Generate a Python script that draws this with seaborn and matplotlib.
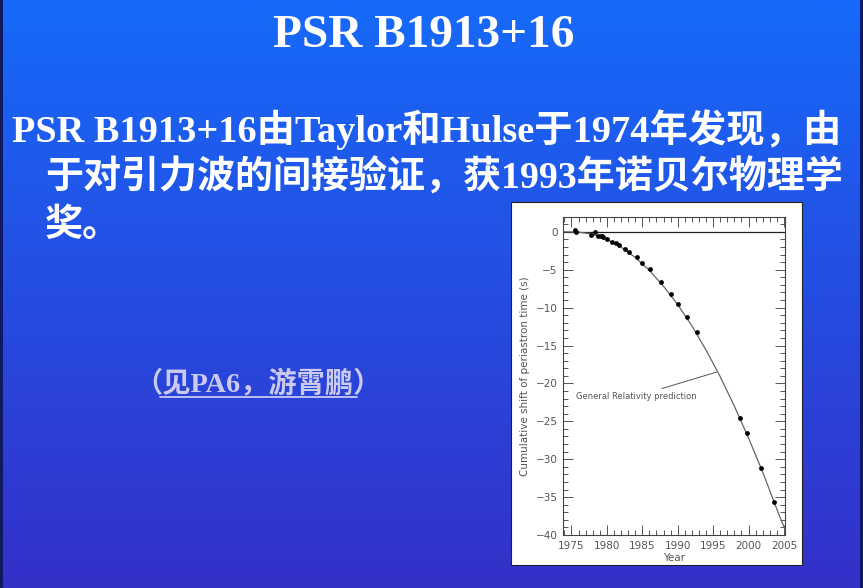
import numpy as np
import pandas as pd
import matplotlib
matplotlib.use("Agg")
import matplotlib.pyplot as plt
from matplotlib.patches import Rectangle
from matplotlib.lines import Line2D
from matplotlib.ticker import MultipleLocator
import seaborn as sns

# ---------------- data ----------------
title = "PSR B1913+16"
line1 = "PSR B1913+16由Taylor和Hulse于1974年发现，由"
line2 = "于对引力波的间接验证，获1993年诺贝尔物理学"
line3 = "奖。"
note = "（见PA6，游霄鹏）"

years_obs = [1975.5, 1975.7, 1977.7, 1978.3, 1978.8, 1979.1, 1979.3, 1979.5, 1980.0,
             1980.7, 1981.3, 1981.7, 1982.5, 1983.1, 1984.2, 1985.0, 1986.1, 1987.7,
             1989.0, 1990.0, 1991.3, 1992.7, 1998.8, 1999.8, 2001.8, 2003.6]
shift_obs = [0.2, 0.0, -0.35, -0.08, -0.57, -0.52, -0.58, -0.7, -0.96,
             -1.31, -1.45, -1.75, -2.2, -2.63, -3.33, -4.08, -4.92, -6.68,
             -8.2, -9.53, -11.3, -13.27, -24.6, -26.6, -31.2, -35.7]

years_gr = [1973.8, 1975, 1976, 1978, 1980, 1982, 1984, 1986, 1988, 1990, 1992,
            1994, 1996, 1998, 2000, 2002, 2004, 2005.2]
shift_gr = [0.0, 0.0, -0.02, -0.32, -0.98, -2.0, -3.37, -5.1, -7.18, -9.6, -12.4,
            -15.6, -19.1, -23.0, -27.2, -31.7, -36.6, -39.4]

gr_label = "General Relativity prediction"
xlabel = "Year"
ylabel = "Cumulative shift of periastron time (s)"

# ---------------- figure ----------------
sns.set_style("ticks")
W, H = 863, 588
fig = plt.figure(figsize=(W / 100, H / 100), dpi=100)

def fx(px):
    return px / W

def fy(py):
    return 1 - py / H

# background gradient
bg = fig.add_axes([0, 0, 1, 1], zorder=-10)
top = np.array([22, 106, 250]) / 255
bot = np.array([52, 48, 200]) / 255
t = np.linspace(0, 1, 256)[:, None, None]
grad = top * (1 - t) + bot * t
bg.imshow(grad, aspect="auto", extent=[0, 1, 0, 1])
bg.set_xlim(0, 1)
bg.set_ylim(0, 1)
bg.axis("off")
fig.add_artist(Rectangle((0, 0), fx(3), 1, transform=fig.transFigure,
                         facecolor="#101a60", edgecolor="none", zorder=-5))
fig.add_artist(Rectangle((fx(860), 0), fx(3), 1, transform=fig.transFigure,
                         facecolor="#101a60", edgecolor="none", zorder=-5))

# white inset box
fig.add_artist(Rectangle((fx(511), fy(565)), fx(802 - 511), (565 - 202) / H,
                         transform=fig.transFigure, facecolor="white",
                         edgecolor="#222222", lw=0.8, zorder=-1))

# texts
fam = ["Liberation Serif", "Noto Sans CJK SC", "DejaVu Sans"]
fig.text(fx(424), fy(47), title, ha="center", va="baseline", color="white",
         fontsize=34, fontweight="bold", family=fam)
fig.text(fx(12), fy(142), line1, ha="left", va="baseline", color="white",
         fontsize=27.6, fontweight="bold", family=fam)
fig.text(fx(45), fy(189), line2, ha="left", va="baseline", color="white",
         fontsize=27.4, fontweight="bold", family=fam)
fig.text(fx(45), fy(236), line3, ha="left", va="baseline", color="white",
         fontsize=27.4, fontweight="bold", family=fam)
fig.text(fx(134), fy(392), note, ha="left", va="baseline", color="#CACAF0",
         fontsize=20.3, fontweight="bold", family=fam)
fig.add_artist(Line2D([fx(160), fx(357)], [fy(397), fy(397)], transform=fig.transFigure,
                      color="#CACAF0", lw=1.3))

# inset chart
ax = fig.add_axes([fx(563), fy(535), fx(785 - 563), (535 - 216.7) / H])
ax.set_facecolor("white")
df_gr = pd.DataFrame({"year": years_gr, "shift": shift_gr})
df_obs = pd.DataFrame({"year": years_obs, "shift": shift_obs})
ax.axhline(0, color="#222222", lw=0.9, zorder=1)
sns.lineplot(data=df_gr, x="year", y="shift", ax=ax, color="#666666", lw=0.9,
             sort=True, zorder=2)
sns.scatterplot(data=df_obs, x="year", y="shift", ax=ax, color="black", s=12,
                edgecolor="black", linewidth=0, zorder=3)
ax.annotate(gr_label, xy=(1995.5, -18.5), xytext=(1975.6, -21.7),
            fontsize=6, color="#555555", va="center", ha="left",
            arrowprops=dict(arrowstyle="-", color="#555555", lw=0.7,
                            shrinkA=0, shrinkB=0))
ax.set_xlim(1973.8, 2005.15)
ax.set_ylim(-40, 2)
ax.xaxis.set_major_locator(MultipleLocator(5))
ax.xaxis.set_minor_locator(MultipleLocator(1))
ax.yaxis.set_major_locator(MultipleLocator(5))
ax.yaxis.set_minor_locator(MultipleLocator(1))
ax.tick_params(which="both", direction="in", top=True, right=True,
               colors="#555555", labelcolor="#555555", labelsize=7.5, width=0.7)
ax.tick_params(which="major", length=7, pad=4)
ax.tick_params(which="minor", length=3.5)
ax.set_xticks([1975, 1980, 1985, 1990, 1995, 2000, 2005])
ax.set_xlabel(xlabel, fontsize=7.5, color="#555555", labelpad=2)
ax.set_ylabel(ylabel, fontsize=7.5, color="#555555", labelpad=4)
for s in ax.spines.values():
    s.set_color("#444444")
    s.set_linewidth(0.8)

fig.savefig("out.png", dpi=100)
